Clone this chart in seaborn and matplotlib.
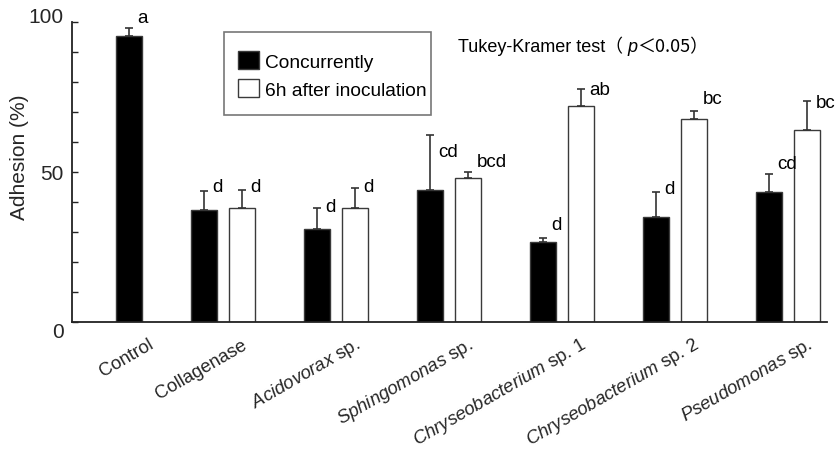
import numpy as np
import pandas as pd
import matplotlib
matplotlib.use("Agg")
import matplotlib.pyplot as plt
import seaborn as sns
from matplotlib.transforms import ScaledTranslation
from matplotlib.offsetbox import TextArea, HPacker, AnchoredOffsetbox
from matplotlib.ticker import MultipleLocator, FixedLocator
from matplotlib.patches import Rectangle

# ---------------- data ----------------
categories = ["Control", "Collagenase", "Acidovorax sp.", "Sphingomonas sp.",
              "Chryseobacterium sp. 1", "Chryseobacterium sp. 2", "Pseudomonas sp."]
tick_labels = ["Control", "Collagenase", r"$\it{Acidovorax}$ sp.",
               r"$\it{Sphingomonas}$ sp.", r"$\it{Chryseobacterium}$ sp. 1",
               r"$\it{Chryseobacterium}$ sp. 2", r"$\it{Pseudomonas}$ sp."]
series = ["Concurrently", "6h after inoculation"]

concurrent = [95.3, 37.4, 31.1, 44.1, 26.7, 35.0, 43.3]
concurrent_err = [2.8, 6.2, 6.8, 18.1, 1.4, 8.5, 6.2]
concurrent_letters = ["a", "d", "d", "cd", "d", "d", "cd"]
concurrent_letter_y = [99.9, 43.6, 37.1, 55.4, 31.0, 43.0, 51.4]

after6h = [np.nan, 37.9, 37.9, 48.1, 71.9, 67.6, 64.1]
after6h_err = [np.nan, 6.2, 6.8, 1.9, 5.9, 2.9, 9.7]
after6h_letters = ["", "d", "d", "bcd", "ab", "bc", "bc"]
after6h_letter_y = [np.nan, 43.7, 43.8, 52.1, 75.9, 73.1, 71.5]

y_ticks = [0, 50, 100]

# ---------------- style ----------------
sns.set_theme(style="white")
plt.rcParams["font.family"] = ["Liberation Sans", "DejaVu Sans"]
plt.rcParams["mathtext.fontset"] = "custom"
plt.rcParams["mathtext.rm"] = "Liberation Sans"
plt.rcParams["mathtext.it"] = "Liberation Sans:italic"
plt.rcParams["text.color"] = "black"

values = {series[0]: concurrent, series[1]: after6h}
errors = {series[0]: concurrent_err, series[1]: after6h_err}
letters = {series[0]: concurrent_letters, series[1]: after6h_letters}
letter_y = {series[0]: concurrent_letter_y, series[1]: after6h_letter_y}

rows = []
single_rows = []
for i, cat in enumerate(categories):
    if np.isnan(after6h[i]):
        single_rows.append({"category": cat, "slot": "single", "value": concurrent[i]})
    else:
        for s in series:
            rows.append({"category": cat, "series": s, "value": values[s][i]})
pairs = pd.DataFrame(rows)
single = pd.DataFrame(single_rows)

W, H = 838, 460
fig = plt.figure(figsize=(W / 100, H / 100), dpi=100)
ax = fig.add_axes([72 / W, 1 - 323 / H, 755 / W, 300 / H])

bar_kw = dict(width=0.673, gap=0.32, edgecolor="#3a3a3a", linewidth=1.0,
              errorbar=None, legend=False, ax=ax, order=categories)

n0 = len(ax.containers)
sns.barplot(data=pairs, x="category", y="value", hue="series", hue_order=series,
            palette={series[0]: "black", series[1]: "white"}, **bar_kw)
main_conts = ax.containers[n0:]
n1 = len(ax.containers)
sns.barplot(data=single, x="category", y="value", hue="slot",
            hue_order=["_pad", "single"], dodge=True,
            palette={"_pad": "white", "single": "black"}, **bar_kw)
single_conts = ax.containers[n1:]

# error bars + letters
xs, tops, errs = [], [], []
single_centers = {}
for cont, s in list(zip(main_conts, series)) + [(c, series[0]) for c in single_conts]:
    for p in cont.patches:
        cx = p.get_x() + p.get_width() / 2
        idx = int(round(cx))
        if cont in single_conts:
            single_centers[idx] = cx
        xs.append(cx)
        tops.append(values[s][idx])
        errs.append(errors[s][idx])
        ax.annotate(letters[s][idx], (cx, letter_y[s][idx]), xytext=(6, 0),
                    textcoords="offset points", ha="left", va="baseline",
                    fontsize=13.5, color="black", zorder=5)
ax.errorbar(xs, tops, yerr=[np.zeros(len(errs)), errs], fmt="none",
            ecolor="#333333", elinewidth=1.2, capsize=2.6, capthick=1.2, zorder=4)

# axes
ax.set_xlim(-0.336, 6.345)
ax.set_ylim(0, 100)
ax.yaxis.set_major_locator(FixedLocator(y_ticks))
ax.yaxis.set_minor_locator(MultipleLocator(10))
ax.tick_params(axis="y", which="both", direction="in", length=4.3, width=1.0,
               color="#222222", labelsize=15, pad=6, left=True)
ax.set_xlabel("")
ax.set_ylabel("Adhesion (%)", fontsize=15)
ax.yaxis.set_label_coords(-0.057, 0.552)
sns.despine(ax=ax)
for sp in ["left", "bottom"]:
    ax.spines[sp].set_color("#222222")
    ax.spines[sp].set_linewidth(1.3)

fig.canvas.draw()
for lbl in ax.get_yticklabels():
    t = lbl.get_text()
    if t == "0":
        lbl.set_va("top")
    elif t == "100":
        lbl.set_va("baseline")

tick_pos = [single_centers.get(i, i) for i in range(len(categories))]
ax.set_xticks(tick_pos)
ax.set_xticklabels(tick_labels, rotation=30, ha="right", va="center",
                   rotation_mode="anchor", fontsize=13.3)
ax.tick_params(axis="x", length=0, pad=15)
shift = ScaledTranslation(0.23, 0, fig.dpi_scale_trans)
for lbl in ax.get_xticklabels():
    lbl.set_transform(lbl.get_transform() + shift)

# legend (frame drawn as a separate box to match the original padding)
leg = ax.legend(main_conts, series, loc="upper left",
                bbox_to_anchor=(238 / W, 1 - 52 / H), bbox_transform=fig.transFigure,
                frameon=False, fontsize=13.8, handlelength=1.08, handleheight=1.08,
                handletextpad=0.33, borderpad=0, labelspacing=0.45, borderaxespad=0)
fig.add_artist(Rectangle((224 / W, 1 - 116 / H), 207 / W, 83 / H,
                         transform=fig.transFigure, fill=False,
                         edgecolor="#777777", linewidth=1.2, zorder=1))

# Tukey annotation
t1 = TextArea("Tukey-Kramer test", textprops=dict(fontsize=13, family="Liberation Sans"))
t2 = TextArea("（ ", textprops=dict(fontsize=13, family=["Noto Sans CJK JP"]))
t3 = TextArea("p", textprops=dict(fontsize=13, family="Liberation Sans", style="italic"))
t4 = TextArea("＜0.05）", textprops=dict(fontsize=13, family=["Noto Sans CJK JP"]))
pack = HPacker(children=[t1, t2, t3, t4], align="baseline", pad=0, sep=0)
anch = AnchoredOffsetbox(loc="lower left", child=pack,
                         bbox_to_anchor=(458 / W, 1 - 56 / H),
                         bbox_transform=fig.transFigure, frameon=False, pad=0, borderpad=0)
ax.add_artist(anch)

fig.savefig("out.png", dpi=100)
